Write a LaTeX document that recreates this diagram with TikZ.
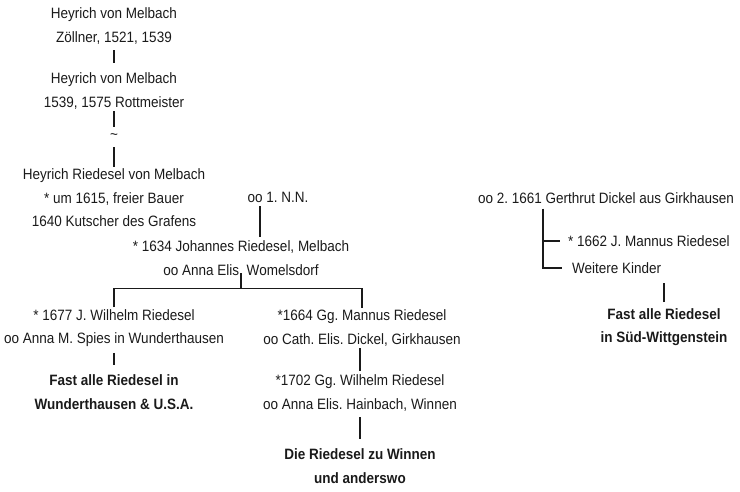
\documentclass[tikz,border=0pt]{standalone}
\usepackage{fontspec}
\setmainfont[FakeStretch=0.9]{Liberation Sans}
\frenchspacing

\definecolor{ink}{HTML}{1a1a1a}

\begin{document}
\begin{tikzpicture}[
  x=1pt, y=-1pt,
  every node/.style={font=\fontsize{15}{23.5}\selectfont, text=ink, inner sep=2pt, align=center},
  branch/.style={font=\fontsize{15}{23.5}\selectfont\bfseries},
  gap/.style={minimum height=20pt, inner sep=0pt},
  link/.style={draw=ink, line width=1.9pt},
  stem/.style={link, shorten <=4pt, shorten >=7.5pt},
]
\useasboundingbox (0,0) rectangle (740,492);
% Melbach line
\node (h1) at (114,26) {Heyrich von Melbach\\Zöllner, 1521, 1539};
\node (h2) at (114,91) {Heyrich von Melbach\\1539, 1575 Rottmeister};
\node[gap] (tl) at (114,137) {\textasciitilde};
\node (h3) at (114,198) {Heyrich Riedesel von Melbach\\* um 1615, freier Bauer\\1640 Kutscher des Grafens};
\node (n1) at (278,197) {oo 1. N.N.};
\node (jo) at (241,258) {* 1634 Johannes Riedesel, Melbach\\oo Anna Elis. Womelsdorf};
\node (jw) at (114,328) {* 1677 J. Wilhelm Riedesel\\oo Anna M. Spies in Wunderthausen};
\node[branch] (fw) at (114,392) {Fast alle Riedesel in\\Wunderthausen \& U.S.A.};
\node (gm) at (362,328) {*1664 Gg. Mannus Riedesel\\oo Cath. Elis. Dickel, Girkhausen};
\node (gw) at (360,393) {*1702 Gg. Wilhelm Riedesel\\oo Anna Elis. Hainbach, Winnen};
\node[branch] (dw) at (360,466) {Die Riedesel zu Winnen\\und anderswo};
% second marriage
\node (n2) at (606,198) {oo 2. 1661 Gerthrut Dickel aus Girkhausen};
\node[anchor=west] (jm) at (566,241) {* 1662 J. Mannus Riedesel};
\node[anchor=west] (wk) at (570,268) {Weitere Kinder};
\node[branch] (fs) at (664,327) {Fast alle Riedesel\\in Süd-Wittgenstein};

\draw[stem] (h1) -- (h2);
\draw[link] (h2) -- (tl) -- (h3);
\draw[link, shorten <=2pt, shorten >=2pt] ([xshift=-18pt]n1.south) -- ([xshift=-18pt]n1.south |- jo.north);
\coordinate (fork) at ([yshift=-11pt]jo.south);
\draw[link] ([yshift=4pt]jo.south) -- (fork);
\draw[link] (jw.north) |- (fork) -| (gm.north);
\draw[stem] (jw) -- (fw);
\draw[link, shorten <=2pt] (gw.north) -- (gw.north |- gm.south);
\draw[stem] (gw) -- (dw);
\coordinate (kid) at ([xshift=-63pt,yshift=-3pt]n2.south);
\draw[link, shorten >=8pt] (kid) |- (wk.west);
\draw[link, shorten >=6pt] (kid |- jm.west) -- (jm.west);
\draw[stem] (fs.north) -- (fs.north |- wk.south);
\end{tikzpicture}
\end{document}
